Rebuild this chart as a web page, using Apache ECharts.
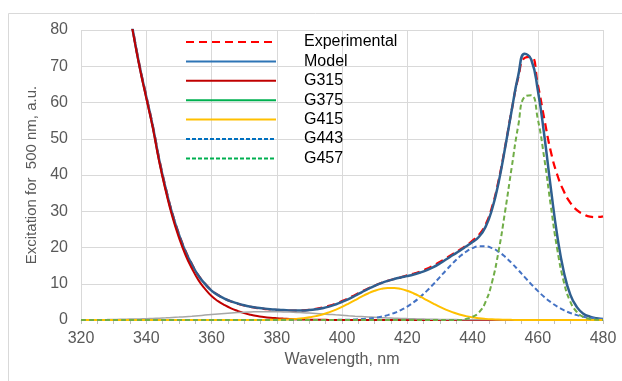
<!DOCTYPE html>
<html><head><meta charset="utf-8">
<script src="https://cdn.jsdelivr.net/npm/echarts@6/dist/echarts.min.js"></script>
<style>html,body{margin:0;padding:0;background:#fff}#c{width:622px;height:381px}</style>
</head><body><div id="c"></div>
<script>
const wavelengths = [320,322,324,326,328,330,332,334,336,338,340,342,344,346,348,350,352,354,356,358,360,362,364,366,368,370,372,374,376,378,380,382,384,386,388,390,392,394,396,398,400,402,404,406,408,410,412,414,416,418,420,422,424,426,428,430,432,434,436,438,440,442,444,446,448,450,452,454,456,458,460,462,464,466,468,470,472,474,476,478,480];

const experimental = [196,178,161,145,130,116.5,103.5,90,79.5,70,61.8,53.6,44.3,36.3,29.4,23.8,19.1,15.4,12.3,10,8.2,6.9,5.9,5.1,4.5,4,3.6,3.3,3.1,2.95,2.8,2.7,2.6,2.6,2.65,2.8,3.05,3.4,3.9,4.5,5.2,6,6.9,7.8,8.7,9.5,10.2,10.8,11.3,11.8,12.3,12.8,13.4,14.1,15,16,17.1,18.2,19.3,20.5,21.9,23.5,26.3,31.2,38.5,47.8,57.8,66.8,72.3,72.6,65,55.5,46.5,40,35.5,32.3,30.3,29.2,28.5,28.4,28.6];

const model = [196,178,161,145.1,130.1,116.2,103.2,89.7,79.3,69.8,61.6,53.4,44.0,36.1,29.2,23.6,18.9,15.3,12.2,9.95,8.1,6.85,5.9,5.13,4.55,4.05,3.67,3.38,3.17,2.99,2.85,2.73,2.65,2.61,2.62,2.73,2.94,3.25,3.69,4.27,4.98,5.79,6.69,7.64,8.56,9.41,10.15,10.78,11.3,11.74,12.13,12.57,13.09,13.76,14.6,15.62,16.75,17.93,19.04,20.27,21.52,22.97,25.69,30.55,37.96,47.51,57.77,67.34,73.45,71.87,63.53,50.97,36.42,23.1,13.22,6.94,3.55,1.72,0.91,0.49,0.28];

const g315 = [196,178,161,145,130,116,103,89.5,79,69.5,61.2,53,43.5,35.5,28.5,22.8,18,14.2,11,8.6,6.6,5.2,4.1,3.2,2.5,1.9,1.45,1.1,0.85,0.65,0.5,0.38,0.28,0.2,0.14,0.1,0.07,0.05,0.03,0.02,0.01,0,0,0,0,0,0,0,0,0,0,0,0,0,0,0,0,0,0,0,0,0,0,0,0,0,0,0,0,0,0,0,0,0,0,0,0,0,0,0,0];

const g375 = [0,0.02,0.05,0.08,0.11,0.15,0.19,0.23,0.27,0.31,0.36,0.43,0.51,0.6,0.7,0.8,0.92,1.05,1.2,1.35,1.5,1.65,1.8,1.93,2.05,2.15,2.22,2.27,2.3,2.3,2.28,2.24,2.18,2.1,2.0,1.9,1.8,1.68,1.55,1.42,1.3,1.17,1.05,0.95,0.85,0.75,0.65,0.57,0.5,0.44,0.38,0.33,0.28,0.24,0.2,0.17,0.14,0.12,0.1,0.08,0.07,0.06,0.05,0.04,0.03,0.02,0.02,0.01,0.01,0,0,0,0,0,0,0,0,0,0,0,0];

const g415 = [0,0,0,0,0,0,0,0,0,0,0,0,0,0,0,0,0,0,0,0,0,0,0,0,0,0,0,0.01,0.02,0.04,0.07,0.11,0.19,0.31,0.48,0.73,1.07,1.52,2.1,2.8,3.62,4.53,5.49,6.44,7.32,8.05,8.58,8.86,8.86,8.58,8.05,7.32,6.44,5.49,4.53,3.62,2.8,2.1,1.52,1.07,0.73,0.48,0.31,0.19,0.11,0.07,0.04,0.02,0.01,0,0,0,0,0,0,0,0,0,0,0,0];

const g443 = [0,0,0,0,0,0,0,0,0,0,0,0,0,0,0,0,0,0,0,0,0,0,0,0,0,0,0,0,0,0,0,0,0,0,0,0,0,0,0.01,0.03,0.05,0.09,0.15,0.25,0.39,0.61,0.92,1.35,1.94,2.72,3.7,4.92,6.37,8.03,9.87,11.83,13.81,15.71,17.42,18.82,19.82,20.33,20.33,19.82,18.82,17.42,15.71,13.81,11.83,9.87,8.03,6.37,4.92,3.7,2.72,1.94,1.35,0.92,0.61,0.39,0.25];

const g457 = [0,0,0,0,0,0,0,0,0,0,0,0,0,0,0,0,0,0,0,0,0,0,0,0,0,0,0,0,0,0,0,0,0,0,0,0,0,0,0,0,0,0,0,0,0,0,0,0,0,0,0,0,0,0,0,0,0,0,0,0.3,0.9,2.1,5.0,10.5,19,30,42,53.5,61.6,62,55.5,44.6,31.5,19.4,10.5,5.0,2.2,0.8,0.3,0.1,0.03];

const chart = echarts.init(document.getElementById('c'), null, {renderer:'canvas'});
function pairs(v){ return wavelengths.map((w,i)=>[w, v[i]]); }
function line(name, values, color, width, type){
  return {name:name, type:'line', data:pairs(values), symbol:'none', showSymbol:false, smooth:true, clip:true,
    lineStyle:{color:color, width:width, type:type||'solid'}, itemStyle:{color:color}, emphasis:{disabled:true}};
}
const hide = {opacity:0};
const option = {
  animation:false,
  backgroundColor:'#fff',
  textStyle:{fontFamily:'"Liberation Sans", Arial, sans-serif'},
  graphic:[{type:'polyline', silent:true, shape:{points:[[8.5,381],[8.5,13.5],[622,13.5]]}, style:{stroke:'#D9D9D9', lineWidth:1, fill:null}}],
  grid:{left:81, right:19, top:30, bottom:61},
  legend:{orient:'vertical', left:185, top:34, padding:0, itemWidth:90, itemHeight:14, itemGap:3.4, selectedMode:false,
    itemStyle:{opacity:0},
    textStyle:{fontSize:16, color:'#000', padding:[0,0,0,23]},
    data:[
      {name:'Experimental', itemStyle:hide},
      {name:'Model', itemStyle:{opacity:0}, lineStyle:{color:'#2E75B6'}},
      {name:'G315', itemStyle:hide},
      {name:'G375', itemStyle:{opacity:0}, lineStyle:{color:'#00B050', width:2}},
      {name:'G415', itemStyle:hide},
      {name:'G443', itemStyle:{opacity:0}, lineStyle:{color:'#0070C0', type:[4,2]}},
      {name:'G457', itemStyle:{opacity:0}, lineStyle:{color:'#00B050', type:[4,2]}}
    ]},
  xAxis:{type:'value', min:320, max:480, interval:20,
    axisLine:{lineStyle:{color:'#D9D9D9'}},
    axisTick:{show:true, length:4, lineStyle:{color:'#BFBFBF'}},
    minorTick:{show:true, splitNumber:4, length:4, lineStyle:{color:'#BFBFBF'}},
    axisLabel:{fontSize:16, color:'#595959', margin:11},
    splitLine:{show:true, lineStyle:{color:'#D9D9D9'}},
    name:'Wavelength, nm', nameLocation:'middle', nameGap:31, nameTextStyle:{fontSize:16, color:'#595959'}},
  yAxis:{type:'value', min:0, max:80, interval:10,
    axisLine:{show:false}, axisTick:{show:false},
    axisLabel:{fontSize:16, color:'#595959', margin:13},
    splitLine:{lineStyle:{color:'#D9D9D9'}},
    name:'Excitation for  500 nm, a.u.', nameLocation:'middle', nameGap:40, nameRotate:90,
    nameTextStyle:{fontSize:15, color:'#595959'}},
  series:[
    line('Experimental', experimental, '#FF0000', 2.25, [8,5]),
    line('Model', model, '#2F5F8F', 2.5),
    line('G315', g315, '#C00000', 2),
    line('G375', g375, '#A6A6A6', 1.5),
    line('G443', g443, '#4472C4', 2, [5,3]),
    line('G415', g415, '#FFC000', 2),
    line('G457', g457, '#70AD47', 2, [5,3])
  ]
};
chart.setOption(option);
</script>
</body></html>
